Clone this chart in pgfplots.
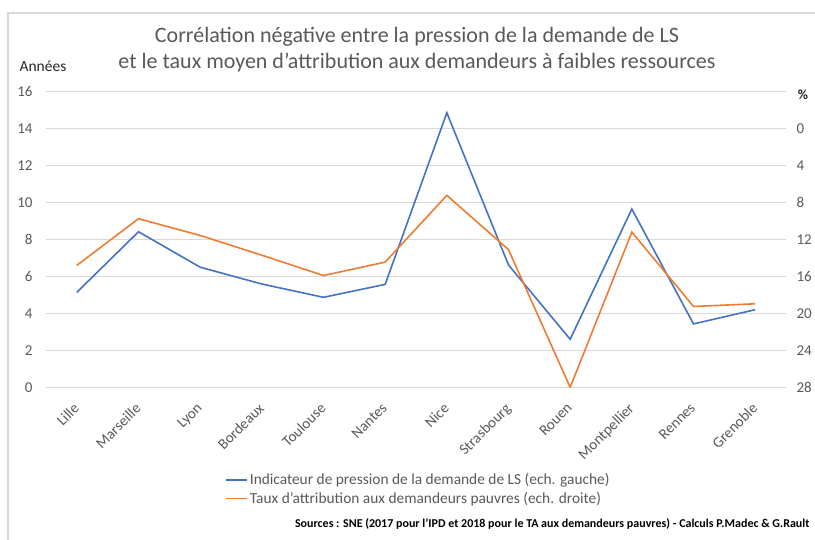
\documentclass[border=0pt]{standalone}
\usepackage{pgfplots}
\pgfplotsset{compat=1.18}
\usepackage{fontspec}
\setmainfont{Carlito}
\definecolor{xlblue}{HTML}{4472C4}
\definecolor{xlorange}{HTML}{ED7D31}
\definecolor{xlgray}{HTML}{595959}
\definecolor{xlgrid}{HTML}{D9D9D9}
\begin{document}
\begin{tikzpicture}
\useasboundingbox (0,0) rectangle (815pt,540pt);
\draw[xlgrid, line width=1.2pt] (8pt,0pt) -- (8pt,527pt) -- (815pt,527pt);
\begin{axis}[
  at={(46pt,152.7pt)}, anchor=south west,
  scale only axis, width=740pt, height=295.6pt,
  xmin=-0.5, xmax=11.5, ymin=0, ymax=16,
  axis x line=none, axis y line*=left, axis line style={draw=none},
  ytick={0,2,...,16}, major tick length=0pt,
  ymajorgrids, grid style={xlgrid, line width=0.8pt},
  /pgf/number format/assume math mode=true,
  yticklabel style={font=\fontsize{15}{17}\selectfont, text=xlgray, xshift=-10pt},
  legend style={at={(0.242,-0.284)}, anchor=north west, draw=none, fill=none,
    font=\fontsize{15.4}{18}\selectfont, text=xlgray, row sep=2pt, inner sep=0pt,
    /tikz/every even column/.append style={column sep=2pt}},
  legend cell align=left,
  legend image code/.code={\draw[#1, line width=1.6pt] (0pt,0pt) -- (21pt,0pt);},
]
\addplot[color=xlblue, line width=1.6pt] coordinates {
(0,5.14) (1,8.42) (2,6.50) (3,5.59) (4,4.87) (5,5.57) (6,14.86) (7,6.62) (8,2.60) (9,9.65) (10,3.43) (11,4.20)};
\addlegendentry{Indicateur de pression de la demande de LS (ech. gauche)}
\addlegendimage{color=xlorange, line width=1.6pt}
\addlegendentry{Taux d'attribution aux demandeurs pauvres (ech. droite)}
\end{axis}
\begin{axis}[
  at={(46pt,152.7pt)}, anchor=south west,
  scale only axis, width=740pt, height=295.6pt,
  xmin=-0.5, xmax=11.5, ymin=-4, ymax=28, y dir=reverse,
  axis y line*=right, axis line style={draw=none},
  ytick={0,4,...,28}, major tick length=0pt,
  xtick={0,...,11},
  xticklabels={Lille,Marseille,Lyon,Bordeaux,Toulouse,Nantes,Nice,Strasbourg,Rouen,Montpellier,Rennes,Grenoble},
  xticklabel style={rotate=45, anchor=north east, font=\fontsize{15}{17}\selectfont, text=xlgray, xshift=-10pt, yshift=-4pt},
  x axis line style={draw=none},
  /pgf/number format/assume math mode=true,
  yticklabel style={font=\fontsize{15}{17}\selectfont, text=xlgray, xshift=7pt},
]
\addplot[color=xlorange, line width=1.6pt] coordinates {
(0,14.8) (1,9.75) (2,11.56) (3,13.7) (4,15.9) (5,14.45) (6,7.22) (7,13.1) (8,28.0) (9,11.2) (10,19.25) (11,18.96)};
\end{axis}
\node[font=\fontsize{22}{25.5}\selectfont, text=xlgray, align=center] at (417pt,490.5pt) {Corrélation négative entre la pression de la demande de LS\\et le taux moyen d'attribution aux demandeurs à faibles ressources};
\node[font=\fontsize{15.5}{17}\selectfont, text=black!85] at (43pt,474pt) {Années};
\node[font=\fontsize{14}{16}\selectfont\bfseries, text=black!85] at (803pt,445pt) {\%};
\node[font=\fontsize{12}{14}\selectfont\bfseries, anchor=east] at (813pt,16pt) {Sources : SNE (2017 pour l'IPD et 2018 pour le TA aux demandeurs pauvres) - Calculs P.Madec \& G.Rault};
\end{tikzpicture}
\end{document}
